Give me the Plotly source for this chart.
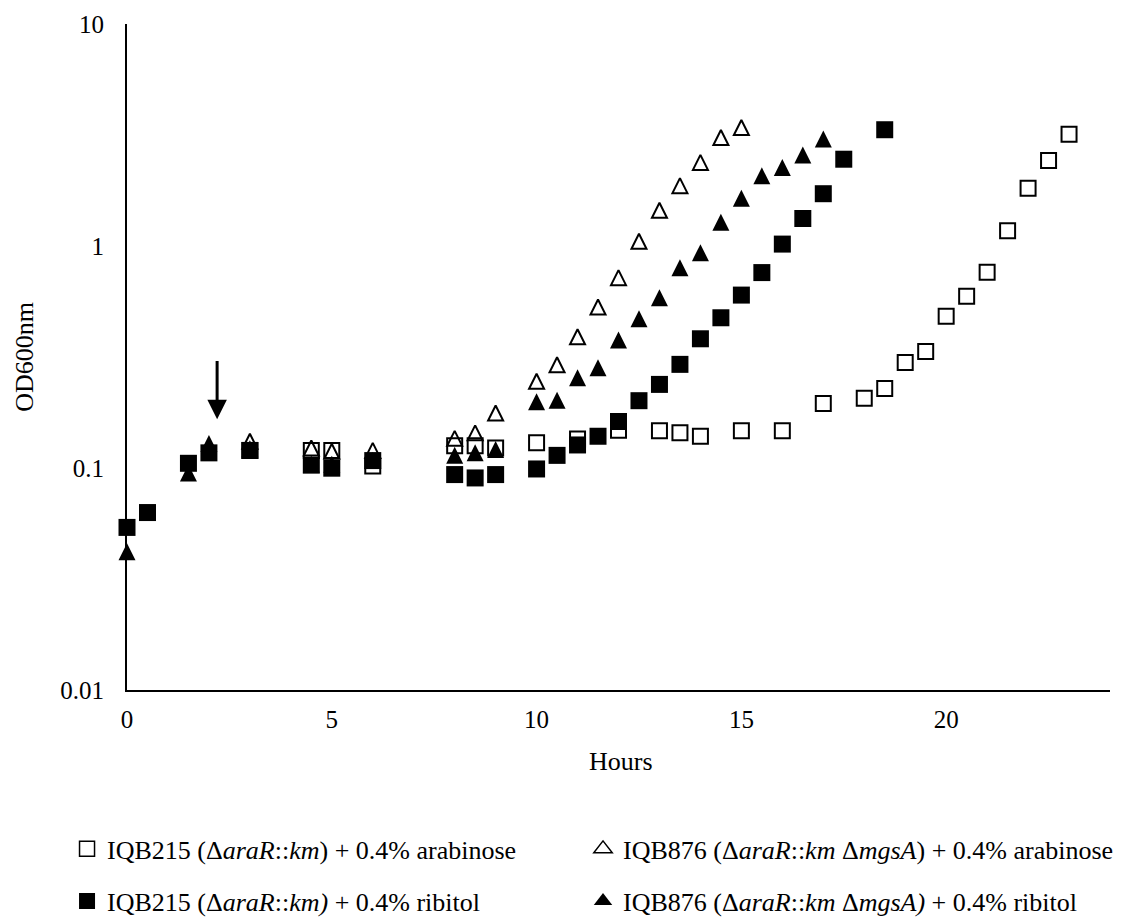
import math
import plotly.graph_objects as go

# ---------------- data ----------------
hours_215_ara = [3, 4.5, 5, 6, 8, 8.5, 9, 10, 11, 12, 13, 13.5, 14, 15, 16, 17, 18,
                 18.5, 19, 19.5, 20, 20.5, 21, 21.5, 22, 22.5, 23]
od_215_ara = [0.12, 0.12, 0.12, 0.102, 0.126, 0.126, 0.123, 0.130, 0.135, 0.148, 0.147,
              0.144, 0.139, 0.147, 0.147, 0.195, 0.206, 0.228, 0.299, 0.335, 0.482,
              0.594, 0.762, 1.17, 1.82, 2.43, 3.19]

hours_215_rib = [0, 0.5, 1.5, 2, 3, 4.5, 5, 6, 8, 8.5, 9, 10, 10.5, 11, 11.5, 12, 12.5,
                 13, 13.5, 14, 14.5, 15, 15.5, 16, 16.5, 17, 17.5, 18.5]
od_215_rib = [0.054, 0.063, 0.105, 0.117, 0.120, 0.103, 0.0998, 0.108, 0.0934, 0.0902,
              0.0934, 0.099, 0.114, 0.127, 0.139, 0.162, 0.201, 0.238, 0.293, 0.382,
              0.475, 0.601, 0.759, 1.02, 1.33, 1.72, 2.46, 3.34]

hours_876_ara = [3, 4.5, 5, 6, 8, 8.5, 9, 10, 10.5, 11, 11.5, 12, 12.5, 13, 13.5, 14,
                 14.5, 15]
od_876_ara = [0.132, 0.123, 0.119, 0.12, 0.136, 0.144, 0.177, 0.246, 0.292, 0.39, 0.531,
              0.72, 1.05, 1.45, 1.87, 2.38, 3.08, 3.42]

hours_876_rib = [0, 1.5, 2, 3, 4.5, 5, 6, 8, 8.5, 9, 10, 10.5, 11, 11.5, 12, 12.5, 13,
                 13.5, 14, 14.5, 15, 15.5, 16, 16.5, 17]
od_876_rib = [0.042, 0.095, 0.129, 0.122, 0.104, 0.104, 0.108, 0.114, 0.117, 0.121, 0.199,
              0.202, 0.255, 0.283, 0.377, 0.47, 0.585, 0.799, 0.933, 1.28, 1.64, 2.07,
              2.26, 2.57, 3.03]

names = [
    "IQB215 (Δ<i>araR</i>::<i>km</i>) + 0.4% arabinose",
    "IQB215 (Δ<i>araR</i>::<i>km)</i> + 0.4% ribitol",
    "IQB876 (Δ<i>araR</i>::<i>km</i> Δ<i>mgsA</i>) + 0.4% arabinose",
    "IQB876 (Δ<i>araR</i>::<i>km</i> Δ<i>mgsA)</i> + 0.4% ribitol",
]

x_ticks = [0, 5, 10, 15, 20]
y_ticks = [0.01, 0.1, 1, 10]
y_tick_labels = ["0.01", "0.1", "1", "10"]

arrow_hour = 2.2
arrow_tip_od = 0.166
arrow_tail_od = 0.308

# ---------------- figure ----------------
FONT = "Liberation Serif, Times New Roman, serif"
SQ = 17
TRI = 17

fig = go.Figure()

open_sq = dict(symbol="square-open", size=SQ - 2, color="black", line=dict(width=2, color="black"))
fill_sq = dict(symbol="square", size=SQ, color="black")
open_tri = dict(symbol="arrow-down-open", angle=180, standoff=(TRI - 2) / 2, size=TRI - 2,
                color="black", line=dict(width=2, color="black"))
fill_tri = dict(symbol="arrow-down", angle=180, standoff=TRI / 2, size=TRI, color="black")

series = [
    (hours_215_ara, od_215_ara, open_sq),
    (hours_215_rib, od_215_rib, fill_sq),
    (hours_876_ara, od_876_ara, open_tri),
    (hours_876_rib, od_876_rib, fill_tri),
]
for (hx, oy, mk), nm in zip(series, names):
    fig.add_trace(go.Scatter(x=hx, y=oy, mode="markers", name=nm, marker=mk,
                             showlegend=False, cliponaxis=False))

# legend-only entries (no data points), one small legend per entry
legend_markers = [
    ("legend", dict(symbol="square-open", size=15, color="black", line=dict(width=1.5, color="black"))),
    ("legend2", dict(symbol="square", size=16, color="black")),
    ("legend3", dict(symbol="triangle-up-open", size=16, color="black", line=dict(width=1.5, color="black"))),
    ("legend4", dict(symbol="triangle-up", size=16, color="black")),
]
for (lg, mk), nm in zip(legend_markers, names):
    fig.add_trace(go.Scatter(x=[None], y=[None], mode="markers", name=nm, marker=mk,
                             legend=lg, showlegend=True))

fig.add_annotation(
    x=arrow_hour, y=math.log10(arrow_tip_od), ax=arrow_hour, ay=math.log10(arrow_tail_od),
    xref="x", yref="y", axref="x", ayref="y", text="", showarrow=True,
    arrowhead=2, arrowsize=1.3, arrowwidth=3, arrowcolor="black")

fig.add_annotation(text="Hours", x=0.5025, y=-0.1077, xref="paper", yref="paper",
                   xanchor="center", yanchor="middle", showarrow=False,
                   font=dict(size=26, color="black", family=FONT))
fig.add_annotation(text="OD600nm", x=-0.105, y=0.5, xref="paper", yref="paper",
                   xanchor="center", yanchor="middle", textangle=-90, showarrow=False,
                   font=dict(size=26, color="black", family=FONT))

legend_common = dict(orientation="h", xanchor="left", yanchor="middle",
                     font=dict(size=26, color="black", family=FONT),
                     bgcolor="rgba(0,0,0,0)", itemclick=False, itemdoubleclick=False)

LEFT_X, RIGHT_X = -0.061, 0.4639
ROW1_Y, ROW2_Y = -0.2387, -0.3168

fig.update_layout(
    width=1131, height=917,
    margin=dict(l=127, r=21, t=24, b=227, autoexpand=False),
    paper_bgcolor="white", plot_bgcolor="white",
    font=dict(family=FONT, size=25, color="black"),
    showlegend=True,
    legend=dict(x=LEFT_X, y=ROW1_Y, **legend_common),
    legend2=dict(x=LEFT_X, y=ROW2_Y, **legend_common),
    legend3=dict(x=RIGHT_X, y=ROW1_Y, **legend_common),
    legend4=dict(x=RIGHT_X, y=ROW2_Y, **legend_common),
    xaxis=dict(range=[0, 24], tickvals=x_ticks, showgrid=False, zeroline=False,
               showline=True, linecolor="black", linewidth=2, ticks="",
               ticklabelstandoff=6, tickfont=dict(size=25, family=FONT, color="black")),
    yaxis=dict(type="log", range=[-2, 1], tickvals=y_ticks, ticktext=y_tick_labels,
               showgrid=False, zeroline=False, showline=True, linecolor="black",
               linewidth=2, ticks="", ticklabelstandoff=16,
               tickfont=dict(size=25, family=FONT, color="black")),
)

fig.write_html("out.html", config={"displayModeBar": False},
               post_script="document.body.style.margin='0';")
